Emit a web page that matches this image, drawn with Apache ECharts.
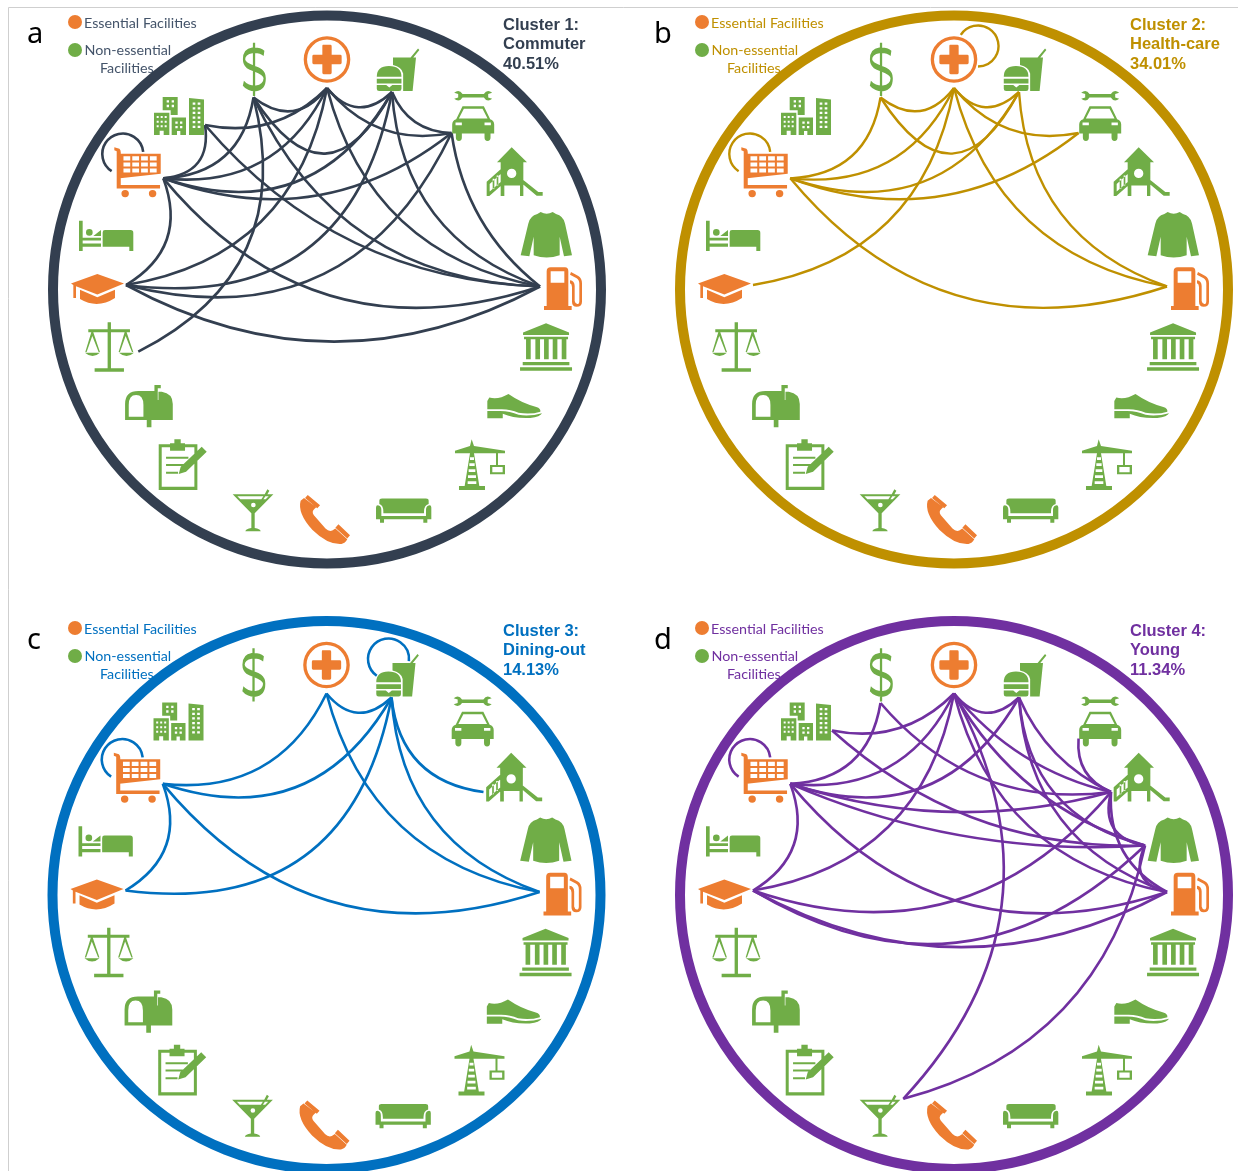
<!DOCTYPE html>
<html><head><meta charset="utf-8">
<style>html,body{margin:0;padding:0;background:#fff}#c{width:1238px;height:1171px}</style>
<script src="https://cdn.jsdelivr.net/npm/echarts@6/dist/echarts.min.js"></script>
</head><body><div id="c"></div>
<script>
// ---------- DATA ----------
const facilities = ['Healthcare','Food','CarRepair','Recreation','Clothing','Gas','Civic','Shoes','Construction','Furniture','Telecom','Bar','Office','Post','Legal','School','Lodging','Grocery','RealEstate','Finance'];
const essential = ['Healthcare','Gas','Telecom','School','Grocery'];
const clusterNames = ['Cluster 1:','Cluster 2:','Cluster 3:','Cluster 4:'];
const clusterKinds = ['Commuter','Health-care','Dining-out','Young'];
const clusterShares = ['40.51%','34.01%','14.13%','11.34%'];
const panelLetters = ['a','b','c','d'];
const cluster1Edges = [['Finance','Healthcare'],['Healthcare','Food'],['Food','CarRepair'],['Healthcare','CarRepair'],['RealEstate','Healthcare'],['RealEstate','Grocery'],['RealEstate','Gas'],['Grocery','Finance'],['Grocery','Healthcare'],['Grocery','Food'],['Grocery','CarRepair'],['Grocery','School'],['Grocery','Gas'],['Finance','Food'],['Finance','Gas'],['Finance','Legal'],['Healthcare','School'],['Food','School'],['CarRepair','School'],['School','Gas'],['Healthcare','Gas'],['Food','Gas'],['CarRepair','Gas'],['Grocery','Grocery']];
const cluster2Edges = [['Finance','Healthcare'],['Healthcare','Food'],['Grocery','Finance'],['Grocery','Healthcare'],['Grocery','Food'],['Grocery','CarRepair'],['Finance','Food'],['Healthcare','CarRepair'],['School','Healthcare'],['Healthcare','Gas'],['Food','Gas'],['Grocery','Gas'],['Grocery','Grocery'],['Healthcare','Healthcare']];
const cluster3Edges = [['Healthcare','Food'],['Grocery','Healthcare'],['Grocery','Food'],['Grocery','School'],['Grocery','Gas'],['School','Food'],['Healthcare','Gas'],['Food','Gas'],['Food','Recreation'],['Grocery','Grocery'],['Food','Food']];
const cluster4Edges = [['Healthcare','Food'],['RealEstate','Healthcare'],['Finance','Grocery'],['Grocery','Healthcare'],['Grocery','Food'],['Grocery','Recreation'],['Grocery','Clothing'],['Grocery','Gas'],['Grocery','School'],['School','Healthcare'],['School','Recreation'],['School','Clothing'],['School','Gas'],['Finance','Recreation'],['RealEstate','Clothing'],['Healthcare','Bar'],['Healthcare','Recreation'],['Healthcare','Clothing'],['Healthcare','Gas'],['Food','Recreation'],['Food','Clothing'],['Food','Gas'],['CarRepair','Recreation'],['Recreation','Clothing'],['Recreation','Gas'],['Clothing','Gas'],['Clothing','Bar'],['Grocery','Grocery']];
const clusterEdges = [cluster1Edges,cluster2Edges,cluster3Edges,cluster4Edges];

// ---------- STYLE / LAYOUT ----------
const ORANGE='#ed7d31', GREEN='#70ad47';
const ringColors=['#333f50','#bf9000','#0070c0','#7030a0'];
const textColors=['#44546a','#bf9000','#0070c0','#7030a0'];
const centers=[[327,289.5],[954,289.5],[326.5,895],[954,895]];
const RING=274, ICON_R=230/RING, EDGE_R=200/RING, LOOP_R=245/RING;
const idx=n=>facilities.indexOf(n);

const R=(x,y,w,h)=>`M${x} ${y}H${x+w}V${y+h}H${x}Z`;
const H=(x,y,w,h)=>`M${x} ${y}V${y+h}H${x+w}V${y}Z`;
const C=(x,y,r)=>`M${x-r} ${y}A${r} ${r} 0 1 1 ${x+r} ${y}A${r} ${r} 0 1 1 ${x-r} ${y}Z`;
const CH=(x,y,r)=>`M${x-r} ${y}A${r} ${r} 0 1 0 ${x+r} ${y}A${r} ${r} 0 1 0 ${x-r} ${y}Z`;
function grid(x,y,nx,ny,dx,dy,w,h){let s='';for(let i=0;i<nx;i++)for(let j=0;j<ny;j++)s+=H(x+i*dx,y+j*dy,w,h);return s;}

const icons={
 Healthcare:{w:46.6,h:46.6,dx:0,dy:0,d:C(0,0,70)+CH(0,0,60)+'M-12 -44Q-14 -44 -14 -40V-14H-40Q-44 -14 -44 -10V10Q-44 14 -40 14H-14V40Q-14 44 -10 44H10Q14 44 14 40V14H40Q44 14 44 10V-10Q44 -14 40 -14H14V-40Q14 -44 10 -44Z'},
 Food:{w:42.6,h:42.7,dx:0,dy:-1,d:'M520 82H572L594 55L598 60L580 82H588L578 183H550V130Q545 110 520 105Z'+'M472 140Q472 108 508 108Q545 108 545 140Z'+R(472,146,73,14)+'M472 165H500L509 172L518 165H545V176Q545 183 538 183H479Q472 183 472 176Z'},
 CarRepair:{w:42,h:50,dx:11,dy:12.5,d:'M703 190Q718 178 728 194H792Q802 178 817 190L805 194V204L817 208Q802 220 792 204H728Q718 220 703 208L715 204V194Z'+'M728 230H792L811 268Q823 272 823 284V310H812V322Q812 332 803 332Q794 332 794 322V310H726V322Q726 332 717 332Q708 332 708 322V310H697V284Q697 272 709 268Z'+'M732 237L717 266H803L788 237Z'+H(707,278,19,8)+H(794,278,19,8)},
 Recreation:{w:56,h:48.7,dx:1.6,dy:17.4,d:'M1265 352L1311 397H1300V498H1290V466H1243V498H1232V397H1221Z'+CH(1265,430,14)+'M1298 448L1345 486H1358V497H1340L1298 462Z'+'M1232 418L1190 455V498H1198L1232 468V456L1199 484V462L1232 432Z'+R(1208,446,5,30)+R(1220,436,5,30)},
 Clothing:{w:51.3,h:45.3,dx:.6,dy:16.3,d:'M262 42L272 36Q290 46 308 36L318 42Q340 48 345 70L366 165L342 168L329 110V165Q290 178 251 165V110L238 168L212 165L235 70Q240 48 262 42Z'},
 Gas:{w:38,h:42.7,dx:6,dy:-.8,d:'M290 214Q290 202 302 202H345Q355 202 355 214V318H365V330H282V318H290Z'+H(302,214,41,34)+'M363 216L385 228Q396 235 396 250V305Q396 320 380 320Q366 320 366 305V262Q366 252 360 250V241Q374 243 374 258V303Q376 312 382 312Q388 312 388 302V252Q388 240 380 235L360 224Z'},
 Civic:{w:52,h:47.4,dx:.3,dy:-13.6,d:'M288 370L357 398V405H219V398Z'+R(222,410,132,8)+R(228,418,14,60)+R(256,418,14,60)+R(282,418,14,60)+R(308,418,14,60)+R(335,418,14,60)+R(218,486,140,10)+R(210,502,156,10)},
 Shoes:{w:54.7,h:24.3,dx:1.6,dy:-18.5,d:'M118 595Q145 602 175 585Q215 612 258 622Q272 626 270 636Q240 645 205 639Q180 628 150 629H112V605Z'+'M112 634H150Q180 634 205 645Q240 650 275 640Q270 650 240 654Q190 656 158 642V655H112Z'},
 Construction:{w:50,h:50.7,dx:17.8,dy:-10.9,d:'M15 752L60 738L65 718L72 738L165 752V760H72L88 858H105V870H27V858H44L60 760H15Z'+H(60,772,12,8)+H(58,790,16,8)+H(56,808,20,8)+H(54,826,24,8)+H(53,844,26,8)+R(138,760,6,36)+R(120,795,45,28)+H(127,801,31,16)},
 Furniture:{w:55.3,h:24.3,dx:5.6,dy:2.3,d:'M478 212Q478 205 486 205H618Q626 205 626 212V222Q612 226 612 245V250H490V245Q490 226 478 222Z'+'M468 232Q468 224 476 226Q484 228 484 240V258H618V240Q618 228 626 226Q634 224 634 232V268H622V278H610V268H492V278H480V268H468Z'},
 Telecom:{w:50,h:49,dx:-2,dy:0,d:'M245 212Q235 250 280 300Q325 345 365 342Q376 340 382 328L347 296L338 302Q328 306 318 296L284 256Q276 244 286 236L291 232L255 204Z'+'M266 195L302 226L294 235L258 204Z'+'M356 283L390 316L382 326L347 293Z'},
 Bar:{w:40.7,h:42,dx:-2.9,dy:2.1,d:'M38 193H134L142 178L148 182L142 193H160L104 250V294Q120 296 122 304H76Q78 296 94 294V250Z'+'M52 199L61 208H124L130 199Z'+'M136 199L130 208H137L146 199Z'+CH(100,225,7)},
 Office:{w:48,h:50.7,dx:-9.1,dy:-10.9,d:R(296,733,116,137)+H(305,742,98,118)+R(330,730,45,22)+R(343,718,19,14)+R(318,770,67,6)+R(318,792,52,6)+R(318,815,36,6)+'M356 822L362 800L425 740L440 755L378 815Z'},
 Post:{w:47.7,h:42.3,dx:8,dy:-18.5,d:'M195 660V612Q195 573 235 573H283V555H302V565H293V600H295V575H305Q338 580 338 612V660H274V682H260V660Z'+'M206 650H250V615Q250 585 228 585Q206 585 206 615Z'},
 Legal:{w:49,h:49.4,dx:1.2,dy:-13.6,d:R(143,367,10,138)+R(104,505,88,10)+R(85,388,125,9)+'M75 458H120Q98 478 75 458Z'+'M177 458H222Q200 478 177 458Z'+'M94 397H100L120 456H116L97 408L80 456H76Z'+'M194 397H200L220 456H216L197 408L180 456H176Z'},
 School:{w:53,h:30,dx:.5,dy:-.5,d:'M33 250L112 222L192 250L112 282L48 258V292H40V254Z'+'M60 268L112 290L165 268V292Q112 325 60 295Z'},
 Lodging:{w:54.3,h:30.3,dx:-2.1,dy:17.5,d:R(57,62,11,91)+C(88,97,10)+'M100 108L123 90V108Z'+R(68,113,55,8)+R(68,130,55,10)+'M135 90H212Q220 90 220 98V153H208V140H128V97Q128 90 135 90Z'},
 Grocery:{w:46.4,h:50,dx:-3.4,dy:18,d:'M362 462H482V522L362 535Z'+grid(372,470,4,3,26,18,20,12)+'M345 443L360 447Q364 450 364 458V555H480V566H352V455L345 452Z'+C(377,581,11)+C(458,581,11)},
 RealEstate:{w:50,h:38,dx:-12.8,dy:12.5,d:R(462,338,46,67)+grid(470,348,3,3,12,14,6,6)+H(479,392,12,13)+'M488 290H533V345H512V330H488Z'+grid(500,300,2,2,15,14,7,7)+R(515,352,43,53)+grid(526,364,2,2,14,14,7,7)+H(531,393,10,12)+'M567 293L612 298V405H567Z'+grid(578,307,2,6,15,14,8,7)},
 Finance:{w:21.3,h:53.3,dx:-1.9,dy:-1.4,stroke:3.6,d:'M132 70C118 58 72 52 72 88C72 122 134 110 134 145C134 185 85 180 70 160M102 38V198'}
};
const edgeAnchor={Healthcare:[0,-1.5],Food:[3.2,-7.3],CarRepair:[7,5.3],Recreation:[-4.8,14.6],Clothing:[.8,12.3],Gas:[13,-3],Grocery:[-1.9,6.4],RealEstate:[-4.4,-2.7],Finance:[-11.7,-1.8],School:[-1,-4.5],Legal:[1.5,.4],Bar:[11.1,13.6]};
const loops={Grocery:{off:[-6,8.5],from:123,to:354},Healthcare:{off:[24,1.5],from:213,to:450},Food:{off:[-13.7,-3],from:125,to:366}};
const curveTweaks={'CarRepair|Gas':.2,'CarRepair|Recreation':.36,'School|Gas':.27,'Grocery|CarRepair':.28,'Recreation|Gas':.32,
 'Finance|Food':.85,'School|Food':.47,'Food|School':.47,'CarRepair|School':.41,'Healthcare|School':.35,'School|Healthcare':.35,
 'School|Recreation':.34,'School|Clothing':.38,'Grocery|Recreation':.15,'Grocery|Clothing':.12,'Grocery|Food':.41,'Grocery|Gas':.34,
 'RealEstate|Clothing':.2,'RealEstate|Gas':.22,'RealEstate|Healthcare':.27,'Finance|Recreation':.27,'Finance|Legal':.4,
 'Healthcare|Clothing':.2,'Healthcare|Recreation':.17,'Healthcare|Bar':.36,'Healthcare|CarRepair':.3,'Food|CarRepair':.32,'Food|Clothing':.36};
const panelCurveTweaks=[{},{},{},{'Food|Recreation':.19}];
const LOOP_PX=20.5, RAD=Math.PI/180;

function edgeRender(color,lw,panel){
 return function(params,api){
  const a=api.value(0), b=api.value(1), na=facilities[a], nb=facilities[b];
  if(a===b){
   const c=api.coord([LOOP_R,a]), l=loops[na];
   return {type:'arc',shape:{cx:c[0]+l.off[0],cy:c[1]+l.off[1],r:LOOP_PX,startAngle:l.from*RAD,endAngle:l.to*RAD,clockwise:true},style:{stroke:color,lineWidth:lw,fill:'none'},silent:true};
  }
  const p=api.coord([EDGE_R,a]), q=api.coord([EDGE_R,b]);
  const ao=edgeAnchor[na]||[0,0], bo=edgeAnchor[nb]||[0,0];
  const x1=p[0]+ao[0],y1=p[1]+ao[1],x2=q[0]+bo[0],y2=q[1]+bo[1];
  const vx=x2-x1,vy=y2-y1,len=Math.hypot(vx,vy);
  let nx=-vy/len,ny=vx/len; if(ny<0||(ny===0&&nx<0)){nx=-nx;ny=-ny;}
  const key=na+'|'+nb;
  const curv=panelCurveTweaks[panel][key]||curveTweaks[key]||(0.255+18/len);
  return {type:'bezierCurve',shape:{x1,y1,x2,y2,cpx1:(x1+x2)/2+nx*curv*len,cpy1:(y1+y2)/2+ny*curv*len},style:{stroke:color,lineWidth:lw,fill:'none'},silent:true};
 };
}

const polar=[],angleAxis=[],radiusAxis=[],series=[],graphic=[];
centers.forEach((c,i)=>{
 polar.push({center:c,radius:RING});
 angleAxis.push({polarIndex:i,type:'category',data:facilities,boundaryGap:true,startAngle:99,clockwise:true,
  axisLine:{show:true,lineStyle:{color:ringColors[i],width:10}},axisTick:{show:false},axisLabel:{show:false},splitLine:{show:false},splitArea:{show:false}});
 radiusAxis.push({polarIndex:i,type:'value',min:0,max:1,axisLine:{show:false},axisTick:{show:false},axisLabel:{show:false},splitLine:{show:false},splitArea:{show:false}});
 series.push({type:'custom',coordinateSystem:'polar',polarIndex:i,silent:true,clip:false,z:2,
  data:clusterEdges[i].map(e=>[idx(e[0]),idx(e[1])]),
  encode:{radius:0,angle:1},
  renderItem:edgeRender(ringColors[i],i===1?2.4:2.6,i)});
 series.push({type:'scatter',coordinateSystem:'polar',polarIndex:i,silent:true,clip:false,z:3,
  data:facilities.map((f,k)=>{
   const ic=icons[f], col=essential.includes(f)?ORANGE:GREEN;
   return {value:[ICON_R,k],symbol:'path://'+ic.d,symbolSize:[ic.w,ic.h],symbolOffset:[ic.dx,ic.dy],symbolKeepAspect:false,
    itemStyle:ic.stroke?{color:'rgba(0,0,0,0)',borderColor:col,borderWidth:ic.stroke,opacity:1}:{color:col,opacity:1}};
  })});
 const ox=i%2?627:0, oy=i>1?606:0, tc=textColors[i];
 const T=(x,y,text,style)=>graphic.push({type:'text',x:x+ox,y:y+oy,silent:true,style:Object.assign({text,fill:tc,font:'14.3px Lato',verticalAlign:'middle'},style||{})});
 T(27,35,panelLetters[i],{fill:'#000',font:'29px "Noto Sans"'});
 graphic.push({type:'circle',silent:true,shape:{cx:75+ox,cy:22+oy,r:7},style:{fill:ORANGE}});
 graphic.push({type:'circle',silent:true,shape:{cx:75+ox,cy:50+oy,r:7},style:{fill:GREEN}});
 T(84,23.5,'Essential Facilities');
 T(84.5,50,'Non-essential');
 T(100,68,'Facilities');
 [clusterNames[i],clusterKinds[i],clusterShares[i]].forEach((s,k)=>T(503,25+k*19.5,s,{fill:ringColors[i],font:'bold 16.5px "Liberation Sans"'}));
});
graphic.push({type:'line',silent:true,shape:{x1:8.5,y1:7.5,x2:1238,y2:7.5},style:{stroke:'#cfcfcf',lineWidth:1}});
graphic.push({type:'line',silent:true,shape:{x1:8.5,y1:7.5,x2:8.5,y2:1171},style:{stroke:'#cfcfcf',lineWidth:1}});

const chart=echarts.init(document.getElementById('c'));
chart.setOption({animation:false,backgroundColor:'#fff',polar,angleAxis,radiusAxis,series,graphic:{elements:graphic}});
</script></body></html>
